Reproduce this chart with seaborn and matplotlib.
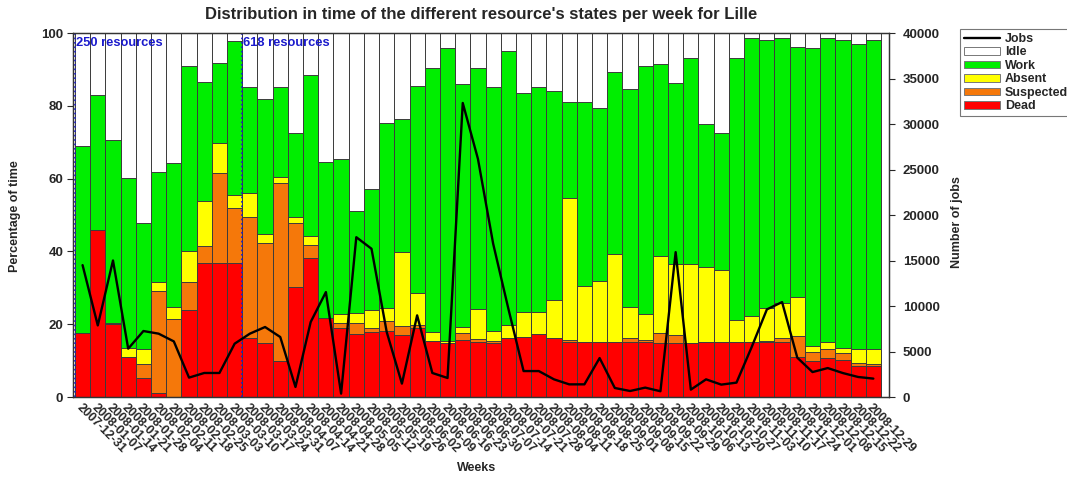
import numpy as np
import pandas as pd
import matplotlib
matplotlib.use("Agg")
import matplotlib.pyplot as plt
import seaborn as sns
from matplotlib.patches import Patch
from matplotlib.lines import Line2D

weeks = ["2007-12-31", "2008-01-07", "2008-01-14", "2008-01-21", "2008-01-28",
         "2008-02-04", "2008-02-11", "2008-02-18", "2008-02-25", "2008-03-03",
         "2008-03-10", "2008-03-17", "2008-03-24", "2008-03-31", "2008-04-07",
         "2008-04-14", "2008-04-21", "2008-04-28", "2008-05-05", "2008-05-12",
         "2008-05-19", "2008-05-26", "2008-06-02", "2008-06-09", "2008-06-16",
         "2008-06-23", "2008-06-30", "2008-07-07", "2008-07-14", "2008-07-21",
         "2008-07-28", "2008-08-04", "2008-08-11", "2008-08-18", "2008-08-25",
         "2008-09-01", "2008-09-08", "2008-09-15", "2008-09-22", "2008-09-29",
         "2008-10-06", "2008-10-13", "2008-10-20", "2008-10-27", "2008-11-03",
         "2008-11-10", "2008-11-17", "2008-11-24", "2008-12-01", "2008-12-08",
         "2008-12-15", "2008-12-22", "2008-12-29"]

dead = [17.5, 46, 20, 11, 5.3, 1.2, 0, 23.9, 36.7, 36.7, 36.7, 16.1, 14.7, 9.9, 30.3,
        38.3, 21.6, 18.9, 17.3, 17.8, 18.2, 17, 19, 15.4, 14.9, 15.7, 15, 14.9, 16.1,
        16.6, 17.3, 16.3, 15.2, 15, 15, 15, 15, 15, 14.8, 14.8, 14.8, 15, 15, 15, 15.1,
        15, 15, 11.1, 9.9, 10.6, 10.3, 8.6, 8.6]
suspected = [0, 0, 0, 0, 3.7, 28, 21.3, 7.6, 4.8, 24.9, 15.3, 33.3, 27.7, 49, 17.4,
             3.5, 0, 1.5, 2.9, 1.1, 2.7, 2.5, 0.8, 0, 0, 1.8, 0.8, 0.4, 0, 0, 0, 0,
             0.4, 0, 0, 0, 1.3, 0.6, 2.7, 2.2, 0, 0, 0, 0, 0, 0.3, 1.3, 5.7, 2.4, 2.6,
             1.7, 0.8, 0.4]
absent = [0, 0, 0.4, 2.4, 4.1, 2.5, 3.5, 8.7, 12.4, 8.3, 3.5, 6.6, 2.4, 1.6, 1.8, 2.4,
          0, 2.5, 2.8, 5, 3.6, 20.2, 8.7, 2.4, 0.4, 1.6, 8.4, 2.8, 3.7, 6.8, 6.1, 10.3,
          39.2, 15.6, 17, 24.4, 8.5, 7.1, 21.2, 19.5, 21.7, 20.8, 19.9, 6.2, 7.2, 9.1,
          9.4, 10.8, 1.8, 1.8, 1.5, 3.8, 4.2]
work = [51.5, 37, 50.2, 46.9, 34.8, 30, 39.4, 50.8, 32.7, 21.9, 42.3, 29.3, 37.2, 24.8,
        23.1, 44.3, 43, 42.4, 28.2, 33.2, 50.7, 36.6, 56.9, 72.7, 80.5, 66.9, 66.3,
        67.2, 75.2, 60.2, 61.7, 57.6, 26.2, 50.4, 47.5, 50, 59.8, 68.1, 52.7, 49.9,
        56.5, 39.1, 37.7, 72, 76.4, 73.8, 73, 68.6, 81.9, 83.5, 84.7, 83.7, 84.9]
idle = [31, 17, 29.4, 39.7, 52.1, 38.3, 35.8, 9, 13.4, 8.2, 2.2, 14.7, 18, 14.7, 27.4,
        11.5, 35.4, 34.7, 48.8, 42.9, 24.8, 23.7, 14.6, 9.5, 4.2, 14, 9.5, 14.7, 5,
        16.4, 14.9, 15.8, 19, 19, 20.5, 10.6, 15.4, 9.2, 8.6, 13.6, 7, 25.1, 27.4, 6.8,
        1.3, 1.8, 1.3, 3.8, 4, 1.5, 1.8, 3.1, 1.9]
jobs = [14490, 7870, 15000, 5310, 7250, 6960, 6110, 2130, 2640, 2640,
        5860, 6960, 7690, 6590, 1100, 8240, 11530, 370, 17560, 16290,
        7140, 1470, 8970, 2640, 2090, 32310, 26160, 16840, 9700, 2850,
        2850, 1940, 1390, 1390, 4280, 990, 660, 1030, 630, 15920,
        810, 1940, 1360, 1580, 5490, 9630, 10430, 4320, 2740, 3180,
        2630, 2200, 2020]

markers = [("250 resources", 0), ("618 resources", 11)]

colors = {"Idle": "#ffffff", "Work": "#00ee00", "Absent": "#ffff00",
          "Suspected": "#f5780a", "Dead": "#ff0000"}

sns.set_style("ticks")
plt.rcParams["font.family"] = ["Liberation Sans", "DejaVu Sans"]
plt.rcParams["font.weight"] = "bold"

df = pd.DataFrame({"week": weeks, "Dead": dead, "Suspected": suspected,
                   "Absent": absent, "Work": work, "Idle": idle})
order = ["Dead", "Suspected", "Absent", "Work", "Idle"]
cum = df[order].cumsum(axis=1)
for c in order:
    df["top_" + c] = cum[c]

fig = plt.figure(figsize=(10.67, 4.79), dpi=100)
ax = fig.add_axes([73 / 1067, 1 - 397 / 479, (889 - 73) / 1067, (397 - 33) / 479])

for c in reversed(order):
    sns.barplot(data=df, x="week", y="top_" + c, color=colors[c], saturation=1,
                width=1.0, edgecolor="#3c3c3c", linewidth=0.7, errorbar=None, ax=ax)

ax.set_ylim(0, 100)
ax.set_yticks([0, 20, 40, 60, 80, 100])
ax.set_ylabel("")
ax.set_xlabel("")
ax.set_xticks(range(len(weeks)))
ax.set_xticklabels(weeks, rotation=-45, ha="left", va="top",
                   rotation_mode="anchor", fontsize=9, fontweight="bold")
ax.tick_params(axis="x", length=0, pad=3)
ax.tick_params(axis="y", direction="out", length=4, labelsize=9.5, pad=3)
for lab in ax.get_yticklabels():
    lab.set_fontweight("bold")

for text, idx in markers:
    ax.axvline(idx - 0.5, color="#1a1acc", linestyle=":", linewidth=1.2)
    ax.text(idx - 0.42, 97.2, text, color="#1a1acc", fontsize=9.3,
            fontweight="bold", va="center", ha="left")

ax2 = ax.twinx()
sns.lineplot(x=np.arange(len(jobs)), y=jobs, ax=ax2, color="black", linewidth=1.7)
ax2.set_ylim(0, 40000)
ax2.set_yticks(range(0, 40001, 5000))
ax2.set_ylabel("")
ax2.tick_params(axis="y", direction="out", length=4, labelsize=9.5, pad=6)
for lab in ax2.get_yticklabels():
    lab.set_fontweight("bold")
ax.set_xlim(-0.63, 53.03)

for a in (ax, ax2):
    for s in a.spines.values():
        s.set_color("#333333")
        s.set_linewidth(0.9)

fig.text(15 / 1067, 1 - 216 / 479, "Percentage of time", rotation=90,
         ha="center", va="center", fontsize=9, fontweight="bold")
fig.text(957 / 1067, 1 - 222 / 479, "Number of jobs", rotation=90,
         ha="center", va="center", fontsize=9, fontweight="bold")
fig.text(477 / 1067, 1 - 468 / 479, "Weeks", ha="center", va="center",
         fontsize=9, fontweight="bold")
fig.text(481 / 1067, 1 - 14 / 479,
         "Distribution in time of the different resource's states per week for Lille",
         ha="center", va="center", fontsize=12, fontweight="bold")

handles = [Line2D([0], [0], color="black", lw=1.7)]
labels = ["Jobs"]
for c in ["Idle", "Work", "Absent", "Suspected", "Dead"]:
    handles.append(Patch(facecolor=colors[c], edgecolor="#777777", linewidth=0.7))
    labels.append(c)
leg = fig.legend(handles, labels, loc="upper left",
                 bbox_to_anchor=(960 / 1067, 1 - 29 / 479), frameon=True,
                 fancybox=False, edgecolor="#555555", fontsize=9,
                 handlelength=2.9, handleheight=0.55, labelspacing=0.12,
                 borderpad=0.3, handletextpad=0.4, borderaxespad=0)
leg.get_frame().set_linewidth(0.8)
for t in leg.get_texts():
    t.set_fontweight("bold")

fig.savefig("out.png", dpi=100)
